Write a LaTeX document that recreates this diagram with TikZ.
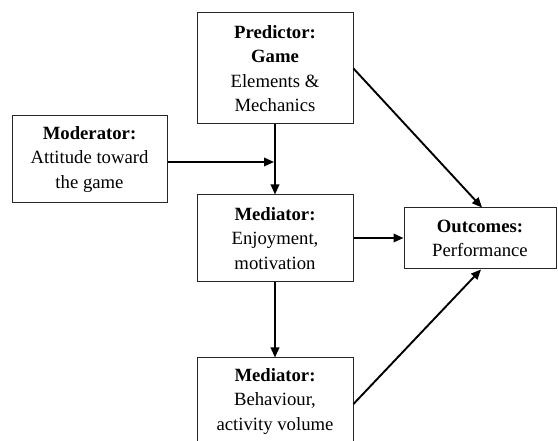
\documentclass[tikz,border=0pt]{standalone}
\usepackage{fontspec}
\setmainfont{Liberation Serif}
\usetikzlibrary{arrows.meta}
\begin{document}
\begin{tikzpicture}[x=1pt,y=-1pt,
  box/.style={draw=black!85, line width=1pt, align=center, inner sep=0pt,
    font=\fontsize{18.7}{24.5}\selectfont},
  conn/.style={line width=1.9pt, -{Triangle[length=10pt,width=8.5pt]}}]
\useasboundingbox (0,0) rectangle (558,441);
\node[box, minimum width=156pt, minimum height=111pt] (pred) at (275,68.5)
  {\textbf{Predictor:}\\\textbf{Game}\\Elements \&\\Mechanics};
\node[box, minimum width=155pt, minimum height=87pt] (mod) at (89.5,159.5)
  {\textbf{Moderator:}\\Attitude toward\\the game};
\node[box, minimum width=156pt, minimum height=87pt] (med1) at (275,238.5)
  {\textbf{Mediator:}\\Enjoyment,\\motivation};
\node[box, minimum width=152pt, minimum height=61pt] (out) at (480,238.5)
  {\textbf{Outcomes:}\\Performance};
\node[box, minimum width=156pt, minimum height=87pt] (med2) at (275,401.5)
  {\textbf{Mediator:}\\Behaviour,\\activity volume};
\coordinate (join) at (274,162);
\draw[conn] (pred.south) -- (med1.north);
\draw[conn] (mod.east |- join) -- (join);
\draw[conn] ([yshift=0.5pt]med1.east) -- ([yshift=0.5pt]out.west);
\draw[conn] (med1.south) -- (med2.north);
\draw[conn] (pred.east) -- ([xshift=2pt]out.north);
\draw[conn] ([yshift=-2.5pt]med2.east) -- ([xshift=1pt]out.south);
\end{tikzpicture}
\end{document}
